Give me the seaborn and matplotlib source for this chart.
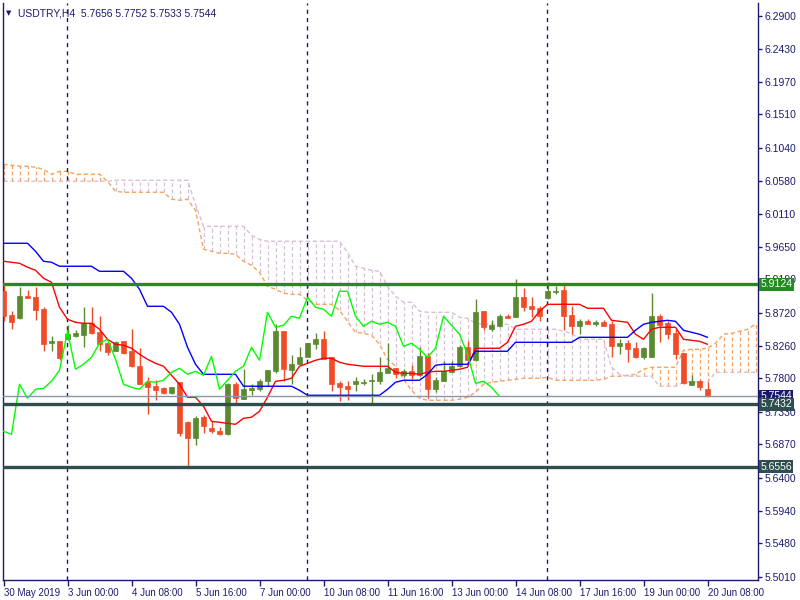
import numpy as np
import pandas as pd
import matplotlib
matplotlib.use("Agg")
import matplotlib.pyplot as plt
import seaborn as sns
from matplotlib.transforms import blended_transform_factory

# ---------------- data (USDTRY, H4) ----------------
opens = [5.9024, 5.8686, 5.8644, 5.8953, 5.8939, 5.8770, 5.8292, 5.8320, 5.8349, 5.8391,
         5.8405, 5.8574, 5.8447, 5.8292, 5.8180, 5.8320, 5.8180, 5.7969, 5.7744, 5.7687,
         5.7659, 5.7589, 5.7744, 5.7181, 5.6956, 5.7251, 5.7097, 5.7055, 5.7012, 5.7716,
         5.7505, 5.7631, 5.7645, 5.7758, 5.7898, 5.8461, 5.7913, 5.7997, 5.8095, 5.8278,
         5.8349, 5.8095, 5.7730, 5.7687, 5.7716, 5.7730, 5.7758, 5.7758, 5.7870, 5.7941,
         5.7842, 5.7898, 5.7842, 5.8109, 5.7645, 5.7758, 5.7884, 5.7969, 5.8236, 5.8053,
         5.8742, 5.8489, 5.8531, 5.8672, 5.8658, 5.8939, 5.8813, 5.8785, 5.8925, 5.9010,
         5.9038, 5.8686, 5.8531, 5.8602, 5.8560, 5.8588, 5.8560, 5.8250, 5.8292, 5.8222,
         5.8095, 5.8095, 5.8672, 5.8574, 5.8433, 5.8152, 5.7702, 5.7758, 5.7656]
highs = [5.9122, 5.8742, 5.9080, 5.9038, 5.9080, 5.8799, 5.8391, 5.8320, 5.8545, 5.8475,
         5.8799, 5.8799, 5.8672, 5.8292, 5.8320, 5.8320, 5.8489, 5.8222, 5.7814, 5.7772,
         5.7673, 5.7673, 5.7744, 5.7195, 5.7266, 5.7280, 5.7195, 5.7111, 5.7730, 5.7744,
         5.7927, 5.7716, 5.7786, 5.7913, 5.8560, 5.8461, 5.8123, 5.8236, 5.8292, 5.8433,
         5.8461, 5.8095, 5.7758, 5.7758, 5.7814, 5.7786, 5.7856, 5.8095, 5.8292, 5.7941,
         5.7927, 5.7983, 5.8236, 5.8152, 5.7814, 5.8039, 5.8039, 5.8264, 5.8320, 5.8911,
         5.8742, 5.8616, 5.8700, 5.8700, 5.9192, 5.9066, 5.8939, 5.8813, 5.9150, 5.9094,
         5.9136, 5.8813, 5.8630, 5.8630, 5.8616, 5.8616, 5.8602, 5.8349, 5.8334, 5.8306,
         5.8236, 5.8996, 5.8700, 5.8602, 5.8489, 5.8152, 5.7842, 5.7772, 5.7752]
lows = [5.8602, 5.8489, 5.8640, 5.8925, 5.8616, 5.8180, 5.8180, 5.8053, 5.8335, 5.8377,
        5.8236, 5.8419, 5.8180, 5.8123, 5.8180, 5.8138, 5.7955, 5.7716, 5.7294, 5.7491,
        5.7575, 5.7575, 5.6984, 5.6562, 5.6858, 5.7026, 5.7026, 5.6998, 5.6998, 5.7420,
        5.7505, 5.7561, 5.7617, 5.7687, 5.7870, 5.7758, 5.7716, 5.7983, 5.8095, 5.8208,
        5.8067, 5.7617, 5.7477, 5.7491, 5.7617, 5.7702, 5.7448, 5.7716, 5.7870, 5.7800,
        5.7814, 5.7786, 5.7828, 5.7519, 5.7603, 5.7758, 5.7884, 5.7955, 5.8053, 5.8039,
        5.8475, 5.8461, 5.8517, 5.8644, 5.8658, 5.8742, 5.8658, 5.8602, 5.8911, 5.8982,
        5.8475, 5.8419, 5.8419, 5.8560, 5.8531, 5.8531, 5.8095, 5.8138, 5.8025, 5.8081,
        5.8067, 5.8095, 5.8306, 5.8349, 5.8067, 5.7716, 5.7702, 5.7631, 5.7533]
closes = [5.8672, 5.8588, 5.8953, 5.8930, 5.8756, 5.8278, 5.8320, 5.8081, 5.8419, 5.8433,
          5.8574, 5.8433, 5.8278, 5.8166, 5.8306, 5.8152, 5.7969, 5.7716, 5.7673, 5.7631,
          5.7589, 5.7673, 5.7026, 5.6956, 5.7237, 5.7125, 5.7055, 5.7012, 5.7716, 5.7519,
          5.7645, 5.7659, 5.7758, 5.7913, 5.8461, 5.7927, 5.7997, 5.8095, 5.8292, 5.8349,
          5.8067, 5.7716, 5.7673, 5.7645, 5.7758, 5.7744, 5.7772, 5.7884, 5.7941, 5.7856,
          5.7898, 5.7842, 5.8109, 5.7645, 5.7772, 5.7898, 5.7969, 5.8236, 5.8053, 5.8728,
          5.8517, 5.8545, 5.8672, 5.8644, 5.8939, 5.8799, 5.8770, 5.8672, 5.9024, 5.9024,
          5.8672, 5.8531, 5.8602, 5.8560, 5.8588, 5.8531, 5.8250, 5.8292, 5.8208, 5.8095,
          5.8222, 5.8672, 5.8545, 5.8419, 5.8138, 5.7730, 5.7758, 5.7673, 5.7544]

tenkan = [5.9445, 5.9431, 5.9417, 5.9361, 5.9318, 5.9206, 5.9150, 5.8798, 5.8629, 5.8587,
          5.8573, 5.8573, 5.8489, 5.8348, 5.8278, 5.8264, 5.8222, 5.8137, 5.8067, 5.8011,
          5.7969, 5.7842, 5.7716, 5.7533, 5.7533, 5.7406, 5.7195, 5.7181, 5.7167, 5.7153,
          5.7238, 5.7252, 5.7336, 5.7533, 5.7758, 5.7772, 5.7800, 5.7969, 5.8011, 5.8053,
          5.8081, 5.8081, 5.8025, 5.7997, 5.7983, 5.7969, 5.7969, 5.7969, 5.7969, 5.7884,
          5.7870, 5.7870, 5.7856, 5.7884, 5.7898, 5.7898, 5.7912, 5.7927, 5.7955, 5.8222,
          5.8222, 5.8222, 5.8222, 5.8306, 5.8531, 5.8559, 5.8601, 5.8742, 5.8840, 5.8840,
          5.8840, 5.8840, 5.8840, 5.8784, 5.8784, 5.8784, 5.8615, 5.8601, 5.8587, 5.8419,
          5.8348, 5.8489, 5.8517, 5.8517, 5.8517, 5.8348, 5.8334, 5.8320, 5.8278]
kijun = [5.9698, 5.9698, 5.9698, 5.9698, 5.9586, 5.9445, 5.9431, 5.9375, 5.9375, 5.9375,
         5.9375, 5.9375, 5.9304, 5.9304, 5.9304, 5.9304, 5.9206, 5.9051, 5.8812, 5.8812,
         5.8812, 5.8728, 5.8559, 5.8236, 5.7997, 5.7856, 5.7856, 5.7856, 5.7856, 5.7856,
         5.7688, 5.7688, 5.7688, 5.7688, 5.7688, 5.7688, 5.7688, 5.7631, 5.7561, 5.7561,
         5.7561, 5.7561, 5.7561, 5.7561, 5.7561, 5.7561, 5.7561, 5.7561, 5.7645, 5.7744,
         5.7772, 5.7772, 5.7772, 5.7856, 5.7983, 5.7997, 5.7997, 5.7997, 5.7997, 5.8180,
         5.8180, 5.8180, 5.8180, 5.8180, 5.8306, 5.8306, 5.8306, 5.8306, 5.8306, 5.8306,
         5.8306, 5.8306, 5.8376, 5.8376, 5.8376, 5.8376, 5.8376, 5.8376, 5.8376, 5.8475,
         5.8559, 5.8587, 5.8601, 5.8615, 5.8601, 5.8475, 5.8447, 5.8419, 5.8376]
span_a = [6.0809, 6.0795, 6.0781, 6.0781, 6.0767, 6.0738, 6.0668, 6.0710, 6.0710, 6.0668,
          6.0668, 6.0668, 6.0668, 6.0570, 6.0429, 6.0415, 6.0415, 6.0415, 6.0415, 6.0415,
          6.0415, 6.0317, 6.0303, 6.0317, 6.0162, 5.9614, 5.9586, 5.9557, 5.9557, 5.9543,
          5.9445, 5.9389, 5.9290, 5.9093, 5.9051, 5.8995, 5.8981, 5.8981, 5.8897, 5.8840,
          5.8840, 5.8840, 5.8756, 5.8601, 5.8447, 5.8433, 5.8405, 5.8278, 5.8067, 5.7969,
          5.7786, 5.7631, 5.7519, 5.7491, 5.7491, 5.7491, 5.7491, 5.7505, 5.7533, 5.7603,
          5.7716, 5.7744, 5.7758, 5.7772, 5.7786, 5.7800, 5.7800, 5.7800, 5.7814, 5.7772,
          5.7772, 5.7772, 5.7772, 5.7772, 5.7772, 5.7786, 5.7828, 5.7828, 5.7842, 5.7856,
          5.7927, 5.7955, 5.7955, 5.7955, 5.7955, 5.8194, 5.8208, 5.8208, 5.8222, 5.8292,
          5.8419, 5.8433, 5.8461, 5.8489, 5.8559]
span_b = [6.0570, 6.0570, 6.0570, 6.0570, 6.0570, 6.0570, 6.0570, 6.0570, 6.0570, 6.0570,
          6.0570, 6.0570, 6.0570, 6.0570, 6.0584, 6.0584, 6.0584, 6.0584, 6.0584, 6.0584,
          6.0584, 6.0584, 6.0584, 6.0584, 6.0246, 5.9937, 5.9937, 5.9937, 5.9937, 5.9937,
          5.9937, 5.9810, 5.9754, 5.9726, 5.9726, 5.9726, 5.9726, 5.9726, 5.9726, 5.9726,
          5.9726, 5.9726, 5.9726, 5.9571, 5.9375, 5.9346, 5.9318, 5.9304, 5.9093, 5.8953,
          5.8868, 5.8868, 5.8742, 5.8728, 5.8728, 5.8728, 5.8728, 5.8658, 5.8644, 5.8573,
          5.8559, 5.8559, 5.8559, 5.8559, 5.8489, 5.8489, 5.8489, 5.8489, 5.8489, 5.8489,
          5.8461, 5.8433, 5.8348, 5.8348, 5.8348, 5.8348, 5.7955, 5.7856, 5.7828, 5.7828,
          5.7828, 5.7828, 5.7688, 5.7688, 5.7688, 5.7744, 5.7744, 5.7744, 5.7744, 5.7884,
          5.7884, 5.7884, 5.7884, 5.7884, 5.7884]

chikou_shift = 26
separator_bars = [8, 38, 68]
date_tick_bars = [0, 8, 16, 24, 32, 40, 48, 56, 64, 72, 80, 88]
date_tick_labels = ["30 May 2019", "3 Jun 00:00", "4 Jun 08:00", "5 Jun 16:00", "7 Jun 00:00",
                    "10 Jun 08:00", "11 Jun 16:00", "13 Jun 00:00", "14 Jun 08:00",
                    "17 Jun 16:00", "19 Jun 00:00", "20 Jun 08:00"]
price_ticks = [6.2900, 6.2430, 6.1970, 6.1510, 6.1040, 6.0580, 6.0110, 5.9650, 5.9190,
               5.8720, 5.8260, 5.7800, 5.7330, 5.6870, 5.6400, 5.5940, 5.5480, 5.5010]
level_prices = [5.9124, 5.7432, 5.6556]
level_colors = ["#228B22", "#2F4F4F", "#2F4F4F"]
bid_price = 5.7544
header = "USDTRY,H4  5.7656 5.7752 5.7533 5.7544"

# ---------------- styling ----------------
sns.set_style("white")
plt.rcParams['font.family'] = ['Liberation Sans', 'DejaVu Sans']
NAVY = "#1b1b6e"
BULL = "#5a8a2f"
BEAR = "#ef4d2a"
SANDY = "#F4A460"
THISTLE = "#D8BFD8"

fig = plt.figure(figsize=(8, 6), dpi=100)
ax = fig.add_axes([3 / 800, 20 / 600, 755 / 800, 577 / 600])
ax.set_xlim(-0.0625, 94.3125)
ax.set_ylim(5.4964, 6.3076)

n = len(opens)
idx = np.arange(n)
cidx = np.arange(len(span_a))
a = np.array(span_a)
b = np.array(span_b)

# ---- Ichimoku cloud (hatch + boundaries) ----
up = a >= b
ax.vlines(cidx[up], b[up], a[up], colors=SANDY, linestyles=(0, (3, 2)), lw=0.9, zorder=1)
ax.vlines(cidx[~up], a[~up], b[~up], colors=THISTLE, linestyles=(0, (3, 2)), lw=0.9, zorder=1)
sns.lineplot(x=cidx, y=span_a, ax=ax, color=SANDY, lw=1, linestyle=(0, (3, 2)), zorder=1)
sns.lineplot(x=cidx, y=span_b, ax=ax, color=THISTLE, lw=1, linestyle=(0, (3, 2)), zorder=1)

# ---- candles ----
df = pd.DataFrame({"o": opens, "h": highs, "l": lows, "c": closes}, index=idx)
cols = np.where(df["c"] >= df["o"], BULL, BEAR)
ax.vlines(idx, df["l"], df["h"], colors=cols, lw=1, zorder=3)
body_lo = np.minimum(df["o"], df["c"])
body_h = np.maximum((df["c"] - df["o"]).abs(), 0.0008)
ax.bar(idx, body_h, bottom=body_lo, width=0.62, color=cols, edgecolor=cols, lw=0.5, zorder=3)

# ---- Ichimoku lines ----
sns.lineplot(x=idx, y=tenkan, ax=ax, color="#FF0000", lw=1, zorder=4)
sns.lineplot(x=idx, y=kijun, ax=ax, color="#0000FF", lw=1, zorder=4)
chikou = df["c"].shift(-chikou_shift).dropna()
sns.lineplot(x=chikou.index, y=chikou.values, ax=ax, color="#00FF00", lw=1, zorder=4)

# ---- separators ----
for s in separator_bars:
    ax.axvline(s - 0.06, color=NAVY, lw=1, ls=(0, (3, 3)), zorder=2)

# ---- horizontal levels ----
trans = blended_transform_factory(ax.transAxes, ax.transData)
ax.axhline(bid_price, color="#8a96a6", lw=1, zorder=5)
ax.text(1.003, bid_price, f"{bid_price:.4f}", transform=trans, fontsize=7.5, color="white",
        va="center", ha="left", zorder=10, clip_on=False,
        bbox=dict(boxstyle="square,pad=0.15", fc="#191970", ec="none"))
for p, c in zip(level_prices, level_colors):
    ax.axhline(p, color=c, lw=2.4, zorder=5)
    ax.text(1.003, p, f"{p:.4f}", transform=trans, fontsize=7.5, color="white",
            va="center", ha="left", zorder=11, clip_on=False,
            bbox=dict(boxstyle="square,pad=0.15", fc=c, ec="none"))

# ---- axes / ticks ----
ax.yaxis.tick_right()
ax.set_yticks(price_ticks)
ax.set_yticklabels([f"{v:.4f}" for v in price_ticks])
ax.set_xticks(date_tick_bars)
ax.set_xticklabels(date_tick_labels, ha="left")
ax.tick_params(axis="y", direction="out", length=3, width=1, colors=NAVY, labelsize=7.5, pad=2, right=True)
ax.tick_params(axis="x", direction="out", length=4, width=1, colors=NAVY, labelsize=7, pad=1.5, bottom=True)
for side in ["left", "right", "bottom"]:
    ax.spines[side].set_color(NAVY)
    ax.spines[side].set_linewidth(1)
ax.spines["top"].set_visible(False)
ax.set_xlabel("")
ax.set_ylabel("")
ax.grid(False)

fig.text(6 / 800, 1 - 13 / 600, "\u25BC", fontsize=5, color=NAVY, va="center", ha="left",
         family=["DejaVu Sans"])
fig.text(18 / 800, 1 - 13 / 600, header, fontsize=7.5, color=NAVY, va="center", ha="left")

fig.savefig("out.png", dpi=100)
